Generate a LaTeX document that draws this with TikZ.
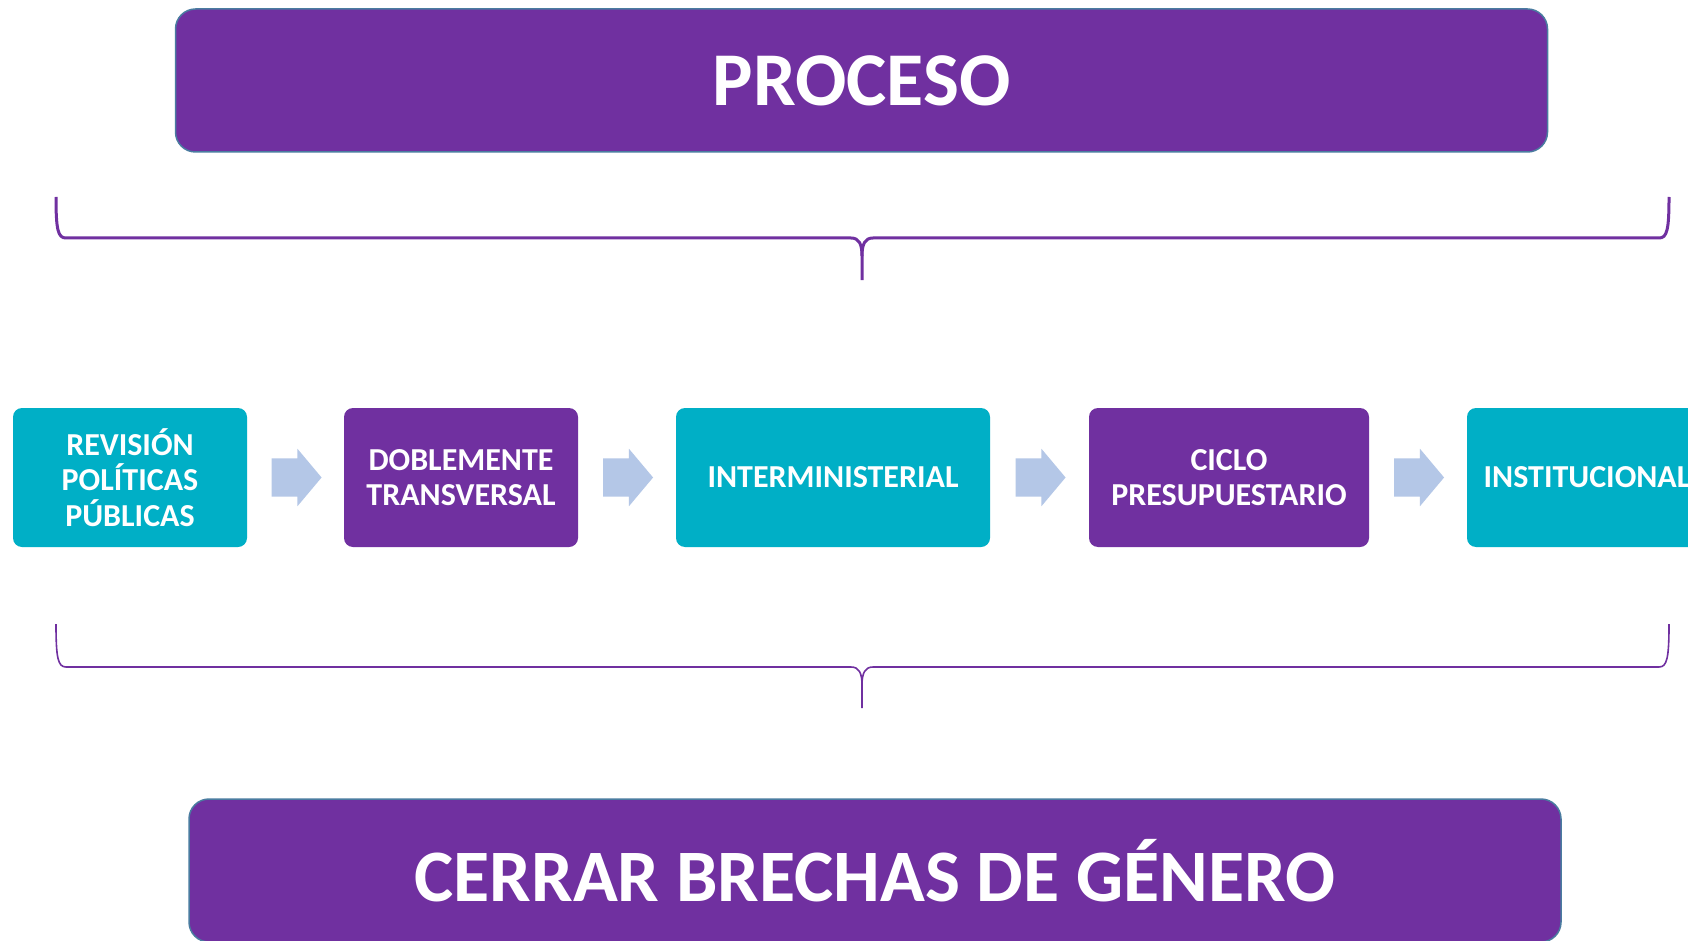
\documentclass[tikz,border=0pt]{standalone}
\usepackage{fontspec}
\setmainfont{Carlito}
\usetikzlibrary{shapes.arrows,calc}
\definecolor{purp}{HTML}{7030A0}
\definecolor{tealc}{HTML}{00AFC6}
\definecolor{arrc}{HTML}{B4C7E7}
\definecolor{edgec}{HTML}{4A7CA0}
\tikzset{
  bigbox/.style={draw=edgec, line width=1.5pt, fill=purp, rounded corners=20pt, text=white,
    minimum width=1372pt, minimum height=143pt, inner sep=0pt},
  stepbox/.style={rounded corners=9pt, text=white, minimum height=139pt, inner sep=0pt,
    align=center, font=\fontsize{32}{35.5}\selectfont\bfseries},
  tealbox/.style={stepbox, fill=tealc},
  purpbox/.style={stepbox, fill=purp},
  blockarrow/.style={single arrow, fill=arrc, draw=none, minimum height=50pt,
    inner xsep=0pt, inner ysep=19pt, xshift=-7pt,
    single arrow head extend=9.5pt, single arrow tip angle=100},
  bracethick/.style={draw=purp, line width=3pt},
  bracethin/.style={draw=purp, line width=1.6pt}
}
\begin{document}
\begin{tikzpicture}[x=1pt,y=-1pt]
\useasboundingbox (0,0) rectangle (1688,941);
\clip (0,0) rectangle (1688,941);
\fill[white] (0,0) rectangle (1688,941);

\node[bigbox, font=\fontsize{76}{92}\selectfont\bfseries] (proc) at (861.5,80.5) {PROCESO};

% top brace
\coordinate (tbl) at (56,197);
\coordinate (tbr) at (1669,197);
\coordinate (tbm) at (862,280);
\draw[bracethick] (tbl) .. controls (56,230) and (58,238) .. (66,238) -- (851,238)
  .. controls (859,238) and (862,244) .. (862,256) -- (tbm);
\draw[bracethick] (tbr) .. controls (1669,230) and (1667,238) .. (1659,238) -- (873,238)
  .. controls (865,238) and (862,244) .. (862,256);

% steps
\node[tealbox, minimum width=234pt] (b1) at (130,477.5) {REVISIÓN\\POLÍTICAS\\PÚBLICAS};
\node[purpbox, minimum width=234pt] (b2) at (461,477.5) {DOBLEMENTE\\TRANSVERSAL};
\node[tealbox, minimum width=314pt] (b3) at (833,477.5) {INTERMINISTERIAL};
\node[purpbox, minimum width=280pt] (b4) at (1229,477.5) {CICLO\\PRESUPUESTARIO};
\node[tealbox, minimum width=240pt] (b5) at (1587,477.5) {INSTITUCIONAL};

\node[blockarrow] (a1) at ($(b1.east)!0.5!(b2.west)$) {};
\node[blockarrow] (a2) at ($(b2.east)!0.5!(b3.west)$) {};
\node[blockarrow] (a3) at ($(b3.east)!0.5!(b4.west)$) {};
\node[blockarrow] (a4) at ($(b4.east)!0.5!(b5.west)$) {};

% bottom brace
\coordinate (bbl) at (56,624);
\coordinate (bbr) at (1669,624);
\coordinate (bbm) at (862,708);
\draw[bracethin] (bbl) .. controls (56,658) and (58,667) .. (66,667) -- (851,667)
  .. controls (859,667) and (862,673) .. (862,685) -- (bbm);
\draw[bracethin] (bbr) .. controls (1669,658) and (1667,667) .. (1659,667) -- (873,667)
  .. controls (865,667) and (862,673) .. (862,685);

\node[bigbox, font=\fontsize{74}{88}\selectfont\bfseries] (goal) at (875,870.5) {CERRAR BRECHAS DE GÉNERO};
\end{tikzpicture}
\end{document}
